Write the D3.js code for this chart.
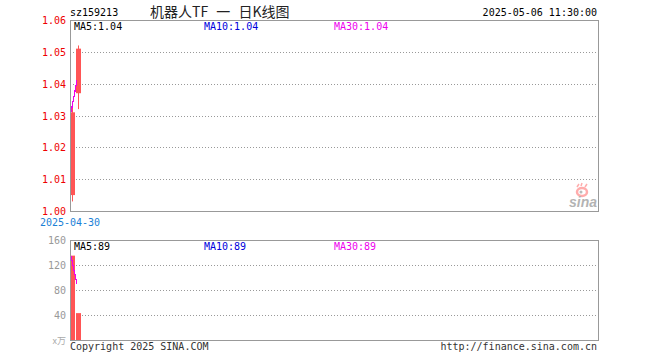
<!DOCTYPE html>
<html>
<head>
<meta charset="utf-8">
<script src="https://cdn.jsdelivr.net/npm/d3@7"></script>
<style>
  body { margin: 0; background: #fff; }
  text { font-family: "DejaVu Sans Mono", "Liberation Mono", monospace; font-size: 10px; }
</style>
</head>
<body>
<div id="chart"></div>
<script>
// daily K data (two trading days)
const dates = ["2025-04-30", "2025-05-06"];
const opens = [1.005, 1.037];
const closes = [1.031, 1.051];
const highs = [1.034, 1.052];
const lows = [1.003, 1.032];
const volumes = [135, 43];
const priceTicks = [1.00, 1.01, 1.02, 1.03, 1.04, 1.05, 1.06];
const volTicks = [40, 80, 120, 160];

const width = 660, height = 360;
const left = 70, right = 598;
const slots = 88;

const svg = d3.select("#chart").append("svg")
  .attr("width", width).attr("height", height);

const x = d3.scaleLinear().domain([0, slots]).range([left, right]);
const y = d3.scaleLinear().domain([1.00, 1.06]).range([211, 20]);
const yv = d3.scaleLinear().domain([0, 160]).range([340, 240]);

const data = dates.map((d, i) => ({
  date: d, open: opens[i], close: closes[i], high: highs[i], low: lows[i], vol: volumes[i]
}));

function ma(arr, n) {
  return arr.map((v, i) => d3.mean(arr.slice(Math.max(0, i - n + 1), i + 1)));
}

const red = "#ff5555";
const maColors = { 5: "#000", 10: "#0000dd", 30: "#ee00ee" };
const maX = [left + 4, left + 134, left + 264];

// header
svg.append("text").attr("x", 70).attr("y", 16).text("sz159213");
svg.append("text").attr("x", 150).attr("y", 17)
  .style("font-family", "'Noto Sans CJK SC', sans-serif").style("font-size", "14px")
  .style("word-spacing", "5px")
  .attr("fill", "#222")
  .text("机器人TF 一 日K线图");
svg.append("text").attr("x", 597).attr("y", 16).attr("text-anchor", "end")
  .text("2025-05-06 11:30:00");

// ---- price panel ----
svg.selectAll(".pgrid").data(priceTicks.slice(1, -1)).enter().append("line")
  .attr("x1", left).attr("x2", right)
  .attr("y1", d => Math.round(y(d)) + 0.5).attr("y2", d => Math.round(y(d)) + 0.5)
  .attr("stroke", "#999").attr("stroke-dasharray", "1,2");

svg.selectAll(".plab").data(priceTicks).enter().append("text")
  .attr("x", 66).attr("y", d => y(d) + 4).attr("text-anchor", "end")
  .attr("fill", "#e00")
  .text(d => d.toFixed(2));

// sina logo
const logo = svg.append("g").attr("opacity", 0.4);
logo.append("ellipse").attr("cx", 582).attr("cy", 192).attr("rx", 5).attr("ry", 4)
  .attr("fill", "none").attr("stroke", "#ff3333").attr("stroke-width", 2.5);
logo.append("circle").attr("cx", 581).attr("cy", 192).attr("r", 1.5).attr("fill", "#555");
logo.append("path").attr("d", "M577,187 l2,-3 M581,186 l1,-3 M585,187 l2,-3")
  .attr("stroke", "#ff3333").attr("stroke-width", 1.5);
logo.append("text").attr("x", 597).attr("y", 207).attr("text-anchor", "end")
  .style("font-family", "Arial, 'Liberation Sans', sans-serif").style("font-size", "14px")
  .style("font-style", "italic").style("font-weight", "bold").attr("fill", "#444").text("sina");

// candles
svg.selectAll(".wick").data(data).enter().append("line")
  .attr("x1", (d, i) => x(i) + 2.5).attr("x2", (d, i) => x(i) + 2.5)
  .attr("y1", d => y(d.high)).attr("y2", d => y(d.low))
  .attr("stroke", red).attr("stroke-width", 1);
svg.selectAll(".body").data(data).enter().append("rect")
  .attr("x", (d, i) => x(i)).attr("width", 5)
  .attr("y", d => y(Math.max(d.open, d.close)))
  .attr("height", d => Math.abs(y(d.open) - y(d.close)))
  .attr("fill", red);

// MA lines (price)
const priceMA = [5, 10, 30].map(n => ({ n, v: ma(closes, n) }));
const line = d3.line().x(d => d[0]).y(d => d[1]);
priceMA.forEach(m => {
  svg.append("path")
    .attr("d", line(m.v.map((v, i) => [x(i) + 1, y(v)])))
    .attr("fill", "none").attr("stroke", maColors[m.n]).attr("stroke-width", 1.2)
    .attr("shape-rendering", "crispEdges");
});
priceMA.forEach((m, k) => {
  svg.append("text").attr("x", maX[k]).attr("y", 30).attr("fill", maColors[m.n])
    .text("MA" + m.n + ":" + m.v[m.v.length - 1].toFixed(2));
});

svg.append("rect").attr("x", left + 0.5).attr("y", 20.5)
  .attr("width", right - left).attr("height", 191)
  .attr("fill", "none").attr("stroke", "#999");

svg.append("text").attr("x", x(0)).attr("y", 226).attr("text-anchor", "middle")
  .attr("fill", "#1a7fd6").text(dates[0]);

// ---- volume panel ----
svg.selectAll(".vgrid").data(volTicks.slice(0, -1)).enter().append("line")
  .attr("x1", left).attr("x2", right)
  .attr("y1", d => Math.round(yv(d)) + 0.5).attr("y2", d => Math.round(yv(d)) + 0.5)
  .attr("stroke", "#999").attr("stroke-dasharray", "1,2");

svg.selectAll(".vlab").data(volTicks).enter().append("text")
  .attr("x", 66).attr("y", d => yv(d) + 4).attr("text-anchor", "end")
  .attr("fill", "#999").text(d => d);
svg.append("text").attr("x", 66).attr("y", 344).attr("text-anchor", "end")
  .attr("fill", "#aaa").style("font-family", "'Noto Sans CJK SC', sans-serif")
  .style("font-size", "9px").text("x万");

svg.selectAll(".vbar").data(data).enter().append("rect")
  .attr("x", (d, i) => x(i)).attr("width", 5)
  .attr("y", d => yv(d.vol)).attr("height", d => yv(0) - yv(d.vol))
  .attr("fill", red);

const volMA = [5, 10, 30].map(n => ({ n, v: ma(volumes, n) }));
volMA.forEach(m => {
  svg.append("path")
    .attr("d", line(m.v.map((v, i) => [x(i) + 1, yv(v)])))
    .attr("fill", "none").attr("stroke", maColors[m.n]).attr("stroke-width", 1.2)
    .attr("shape-rendering", "crispEdges");
});
volMA.forEach((m, k) => {
  svg.append("text").attr("x", maX[k]).attr("y", 250).attr("fill", maColors[m.n])
    .text("MA" + m.n + ":" + Math.floor(m.v[m.v.length - 1]));
});

svg.append("rect").attr("x", left + 0.5).attr("y", 240.5)
  .attr("width", right - left).attr("height", 100)
  .attr("fill", "none").attr("stroke", "#999");

svg.append("text").attr("x", 70).attr("y", 350).attr("fill", "#333")
  .text("Copyright 2025 SINA.COM");
svg.append("text").attr("x", 597).attr("y", 350).attr("text-anchor", "end")
  .attr("fill", "#333").text("http://finance.sina.com.cn");
</script>
</body>
</html>
